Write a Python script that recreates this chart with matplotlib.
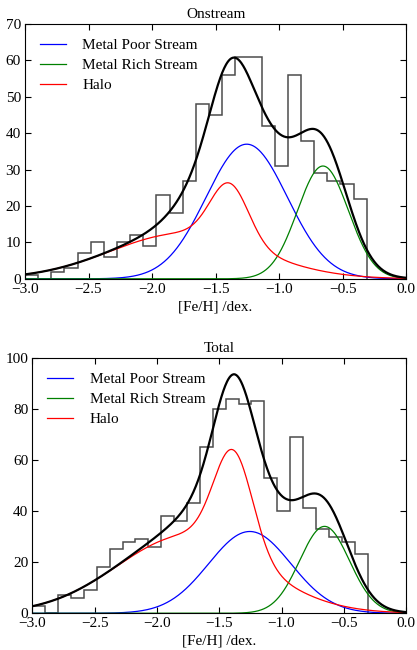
import matplotlib
matplotlib.use('Agg')
import matplotlib.pyplot as plt
import numpy as np

plt.rcParams['font.family'] = ['Liberation Serif', 'DejaVu Serif']
plt.rcParams['mathtext.fontset'] = 'stix'
plt.rcParams['font.size'] = 11

# histogram of [Fe/H], 26 equal bins
bin_lo, bin_hi, n_bins = -3.0, -0.31, 26
onstream_counts = [1, 0, 2, 3, 7, 10, 6, 10, 12, 9, 23, 18, 27,
                   48, 45, 56, 61, 61, 42, 31, 56, 38, 29, 27, 26, 22]
total_counts = [3, 0, 7, 6, 9, 18, 25, 28, 29, 26, 38, 36, 43,
                65, 80, 84, 82, 83, 53, 40, 69, 41, 33, 30, 28, 23]

# fitted components: (amplitude, mean, sigma)
# halo is a narrow core plus a broad part
onstream_poor = (37.0, -1.255, 0.32)
onstream_rich = (31.0, -0.655, 0.20)
onstream_halo = [(16.0, -1.39, 0.15), (12.5, -1.75, 0.58)]
total_poor = (32.0, -1.255, 0.33)
total_rich = (34.0, -0.655, 0.20)
total_halo = [(39.0, -1.386, 0.155), (30.5, -1.75, 0.57)]

labels = ['Metal Poor Stream', 'Metal Rich Stream', 'Halo']


def gauss(x, p):
    a, mu, sig = p
    return a * np.exp(-(x - mu) ** 2 / (2 * sig ** 2))


def panel(ax, counts, poor, rich, halo, title, ymax, ystep):
    edges = np.linspace(bin_lo, bin_hi, n_bins + 1)
    ax.stairs(counts, edges, color='k', lw=1.1, alpha=0.7, baseline=0)
    x = np.linspace(-3.0, 0.0, 600)
    y_poor = gauss(x, poor)
    y_rich = gauss(x, rich)
    y_halo = sum(gauss(x, h) for h in halo)
    ax.plot(x, y_poor, color='b', lw=0.9, label=labels[0])
    ax.plot(x, y_rich, color='g', lw=0.9, label=labels[1])
    ax.plot(x, y_halo, color='r', lw=0.9, label=labels[2])
    ax.plot(x, y_poor + y_rich + y_halo, color='k', lw=1.6)
    ax.set_xlim(-3.0, 0.0)
    ax.set_ylim(0, ymax)
    ax.set_xticks(np.arange(-3.0, 0.01, 0.5))
    ax.set_yticks(np.arange(0, ymax + 1, ystep))
    ax.tick_params(direction='in', top=True, right=True, length=4,
                   labelsize=11, pad=3)
    ax.set_title(title, fontsize=11, pad=4)
    ax.set_xlabel('[Fe/H] /dex.', fontsize=11, labelpad=3)
    ax.legend(loc='upper left', frameon=False, handlelength=1.7,
              handletextpad=1.1, labelspacing=0.42, fontsize=11,
              borderaxespad=0.55)


fig = plt.figure(figsize=(4.17, 6.5), dpi=100)
ax1 = fig.add_axes([0.060, 0.571, 0.914, 0.392])
ax2 = fig.add_axes([0.0775, 0.0565, 0.8965, 0.3932])

panel(ax1, onstream_counts, onstream_poor, onstream_rich, onstream_halo,
      'Onstream', 70, 10)
panel(ax2, total_counts, total_poor, total_rich, total_halo,
      'Total', 100, 20)

fig.savefig('out.png', dpi=100)
